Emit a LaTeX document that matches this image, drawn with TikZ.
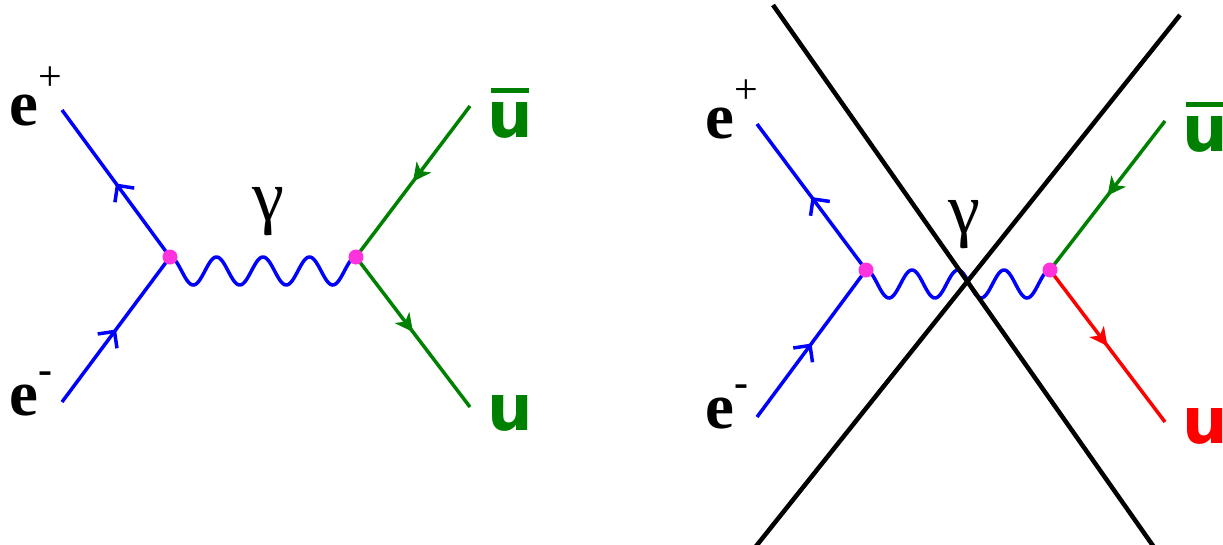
\documentclass[tikz,border=0pt]{standalone}
\usepackage{fontspec}
\setmainfont{Liberation Serif}
\newfontfamily\qsans{DejaVu Sans}
\usetikzlibrary{arrows.meta,decorations.markings}

\definecolor{eblue}{RGB}{0,0,255}
\definecolor{ugreen}{RGB}{0,128,0}
\definecolor{ured}{RGB}{255,0,0}
\definecolor{vpink}{RGB}{255,51,221}

% e cu indice sus (semn, ridicare)
\newcommand{\lepton}[2]{{\fontsize{65}{65}\selectfont\bfseries e}%
  \raisebox{#2}{\fontsize{42}{42}\selectfont #1}}
% quark u / anti-u
\newcommand{\qu}{{\qsans\bfseries\fontsize{64}{64}\selectfont u}}
\newcommand{\qubar}{{\qsans\bfseries\fontsize{64}{64}\selectfont
  \ooalign{u\cr\hidewidth\rule[44pt]{38pt}{5pt}\hidewidth}}}

\begin{document}
\begin{tikzpicture}[x=1pt, y=-1pt,
    fermion/.style={line width=3.5pt, postaction={decorate},
      decoration={markings, mark=at position 0.5 with {\arrow{#1}}}},
    openarr/.style={fermion={Straight Barb[length=12pt,width=24pt]}},
    fullarr/.style={fermion={Stealth[length=18pt,width=18pt,inset=5pt]}},
    photon/.style={eblue, line width=3.5pt},
    cutline/.style={black, line width=4.5pt},
    vtx/.style={circle, fill=vpink, inner sep=0pt, minimum size=15pt},
    lbl/.style={inner sep=0pt, anchor=base west},
    glbl/.style={inner sep=0pt, anchor=base, font=\fontsize{72}{72}\selectfont}]
  \useasboundingbox (0,0) rectangle (1223,544);
  % diagrama stanga
  \coordinate (vL1) at (170,257);
  \coordinate (vL2) at (356,257);
  \coordinate (epL) at (62,110);
  \coordinate (emL) at (62,402);
  \coordinate (ubL) at (470,106);
  \coordinate (uL)  at (470,407);
  \draw[photon, shift={(vL1)}]
    plot[domain=0:4, samples=160, smooth] ({46.5*\x}, {14-14*cos(360*\x)});
  \draw[eblue, openarr] (vL1) -- (epL);
  \draw[eblue, openarr] (emL) -- (vL1);
  \draw[ugreen, fullarr] (ubL) -- (vL2);
  \draw[ugreen, fullarr] (vL2) -- (uL);
  \node[vtx] (dotL1) at (vL1) {};
  \node[vtx] (dotL2) at (vL2) {};
  \node[lbl] (epLtxt) at (9,125) {\lepton{+}{35pt}};
  \node[lbl] (emLtxt) at (9,415) {\lepton{\bfseries -}{32pt}};
  \node[glbl] (gL) at (268,220) {γ};
  \node[lbl, text=ugreen] (ubLtxt) at (487,137) {\qubar};
  \node[lbl, text=ugreen] (uLtxt)  at (487,430) {\qu};
  % diagrama dreapta (cu taietura)
  \coordinate (vR1) at (866,270);
  \coordinate (vR2) at (1050,270);
  \coordinate (epR) at (757,124);
  \coordinate (emR) at (757,417);
  \coordinate (ubR) at (1165,121);
  \coordinate (uR)  at (1165,422);
  \draw[photon, shift={(vR1)}]
    plot[domain=0:4, samples=160, smooth] ({46*\x}, {14-14*cos(360*\x)});
  \draw[eblue, openarr] (vR1) -- (epR);
  \draw[eblue, openarr] (emR) -- (vR1);
  \draw[ugreen, fullarr] (ubR) -- (vR2);
  \draw[ured, fullarr] (vR2) -- (uR);
  \coordinate (cutA1) at (773,5);
  \coordinate (cutA2) at (1156,550);
  \coordinate (cutB1) at (1180,15);
  \coordinate (cutB2) at (753,550);
  \draw[cutline] (cutA1) -- (cutA2);
  \draw[cutline] (cutB1) -- (cutB2);
  \node[vtx] (dotR1) at (vR1) {};
  \node[vtx] (dotR2) at (vR2) {};
  \node[lbl] (epRtxt) at (705,138) {\lepton{+}{35pt}};
  \node[lbl] (emRtxt) at (705,428) {\lepton{\bfseries -}{32pt}};
  \node[glbl] (gR) at (964,233) {γ};
  \node[lbl, text=ugreen] (ubRtxt) at (1182,151) {\qubar};
  \node[lbl, text=ured]   (uRtxt)  at (1182,443) {\qu};
\end{tikzpicture}
\end{document}
